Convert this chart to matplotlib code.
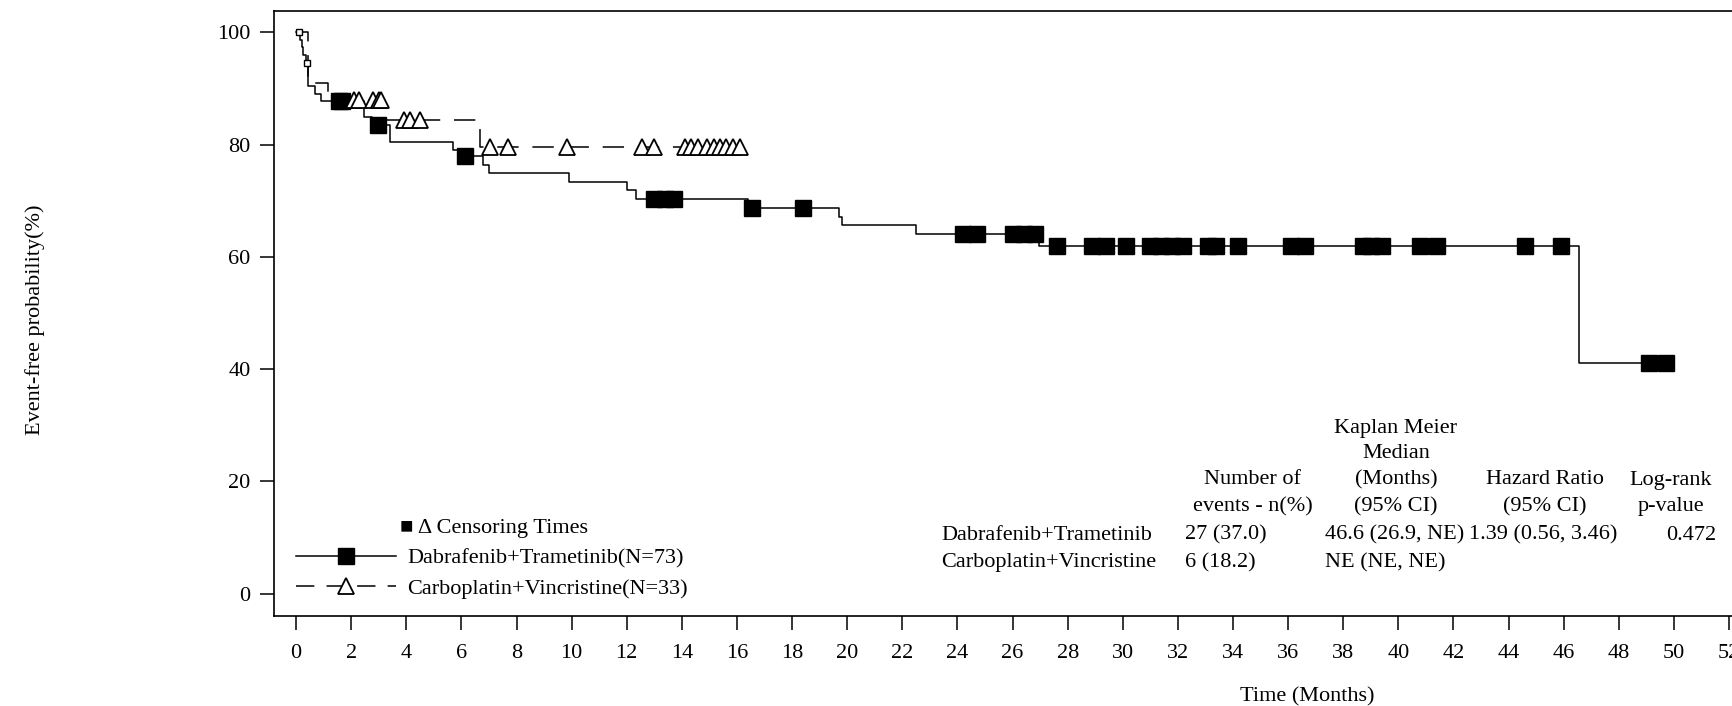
import matplotlib
matplotlib.use("Agg")
import matplotlib.pyplot as plt
from matplotlib.lines import Line2D
import numpy as np

plt.rcParams['font.family'] = ['Liberation Serif', 'DejaVu Serif']

# Dabrafenib+Trametinib KM step curve (time in months, survival %)
dt_time = [0, 0.15, 0.2, 0.27, 0.35, 0.45, 0.69, 0.91, 2.47, 2.75, 3.41, 5.71, 5.95,
           6.8, 7.01, 9.9, 12.0, 12.33, 16.4, 19.71, 19.82, 22.5, 26.96, 46.57, 49.7]
dt_surv = [100, 98.6, 97.3, 95.9, 94.5, 90.4, 89.0, 87.7, 84.9, 83.5, 80.5, 79.1, 77.9,
           76.4, 74.9, 73.4, 71.9, 70.3, 68.7, 67.1, 65.7, 64.0, 62.0, 41.0, 41.0]
dt_censor = [1.55, 1.65, 2.96, 6.13, 13.0, 13.4, 13.7, 16.55, 18.4, 24.2, 24.7, 26.0,
             26.4, 26.8, 27.6, 28.9, 29.4, 30.1, 31.0, 31.4, 31.8, 32.2, 33.1, 33.4,
             34.2, 36.1, 36.6, 38.7, 39.0, 39.4, 40.8, 41.4, 44.6, 45.9, 49.1, 49.7]
dt_early = [0.1, 0.41]

# Carboplatin+Vincristine KM step curve
cv_time = [0, 0.45, 1.15, 3.2, 6.69, 16.1]
cv_surv = [100, 90.9, 87.9, 84.3, 79.5, 79.5]
cv_censor = [2.1, 2.3, 2.8, 3.0, 3.1, 3.9, 4.15, 4.5, 7.04, 7.7, 9.84, 12.54, 13.0,
             14.1, 14.35, 14.6, 14.9, 15.15, 15.4, 15.6, 15.85, 16.1]

labels = ['Dabrafenib+Trametinib(N=73)', 'Carboplatin+Vincristine(N=33)']
xticks = list(range(0, 54, 2))
yticks = [0, 20, 40, 60, 80, 100]

row_names = ['Dabrafenib+Trametinib', 'Carboplatin+Vincristine']
events = ['27 (37.0)', '6 (18.2)']
medians = ['46.6 (26.9, NE)', 'NE (NE, NE)']
hazard = ['1.39 (0.56, 3.46)', '']
pvals = ['0.472', '']

W, H = 1733, 706
FS = 16


def fxy(x, y):
    return x / W, 1 - y / H


def surv_at(times, surv, t):
    i = np.searchsorted(times, t, side='right') - 1
    return np.asarray(surv)[i]


fig = plt.figure(figsize=(W / 100, H / 100), dpi=100)
ax = fig.add_axes([274 / W, 1 - 616 / H, (1745 - 274) / W, (616 - 11) / H])

ax.step(dt_time, dt_surv, where='post', color='black', lw=1.1)
ax.step(cv_time, cv_surv, where='post', color='black', lw=1.1, dashes=[14, 9])

ax.plot(dt_censor, surv_at(dt_time, dt_surv, dt_censor), 's', color='black', ms=12,
        linestyle='none')
ax.plot(dt_early, surv_at(dt_time, dt_surv, dt_early), 's', mfc='white', mec='black',
        ms=5, mew=1, linestyle='none')
ax.plot(cv_censor, surv_at(cv_time, cv_surv, cv_censor), '^', mfc='white', mec='black',
        ms=11, mew=1.3, linestyle='none')

ax.set_xlim(-0.8, 52.58)
ax.set_ylim(-4.0, 103.8)
ax.set_xticks(xticks)
ax.set_yticks(yticks)
ax.tick_params(axis='both', direction='out', length=10, width=1.1, labelsize=FS)
ax.tick_params(axis='x', pad=10)
ax.tick_params(axis='y', pad=7)
for sp in ax.spines.values():
    sp.set_linewidth(1.2)

fig.text(*fxy(1307, 697), 'Time (Months)', fontsize=FS, ha='center', va='center')
fig.text(*fxy(35, 320), 'Event-free probability(%)', rotation=90, fontsize=FS,
         ha='center', va='center')

# legend
handles = [Line2D([], [], color='black', lw=1.1, marker='s', ms=12),
           Line2D([], [], color='black', lw=1.1, dashes=[12, 8], marker='^', ms=11,
                  mfc='white', mew=1.3)]
ax.legend(handles, labels, loc='upper left', bbox_to_anchor=fxy(285, 537),
          bbox_transform=fig.transFigure, frameon=False, fontsize=FS,
          handlelength=4.5, handletextpad=0.5, labelspacing=0.45, borderpad=0)
fig.text(*fxy(400, 528), '\u25a0 \u0394 Censoring Times', fontsize=FS, ha='left',
         va='center', family=['Liberation Serif', 'DejaVu Sans'])

# statistics table
hdr = {1253: ['Number of', 'events - n(%)'],
       1396: ['Kaplan Meier', 'Median', '(Months)', '(95% CI)'],
       1545: ['Hazard Ratio', '(95% CI)'],
       1671: ['Log-rank', 'p-value']}
line_y = [428, 454, 480, 507]
for cx, lines in hdr.items():
    for k, s in enumerate(lines):
        fig.text(*fxy(cx, line_y[4 - len(lines) + k]), s, fontsize=FS, ha='center',
                 va='center')
row_y = [535, 563]
for k in range(2):
    fig.text(*fxy(941, row_y[k]), row_names[k], fontsize=FS, ha='left', va='center')
    fig.text(*fxy(1185, row_y[k]), events[k], fontsize=FS, ha='left', va='center')
    fig.text(*fxy(1325, row_y[k]), medians[k], fontsize=FS, ha='left', va='center')
    fig.text(*fxy(1469, row_y[k]), hazard[k], fontsize=FS, ha='left', va='center')
    fig.text(*fxy(1716, row_y[k]), pvals[k], fontsize=FS, ha='right', va='center')

fig.savefig('out.png', dpi=100)
